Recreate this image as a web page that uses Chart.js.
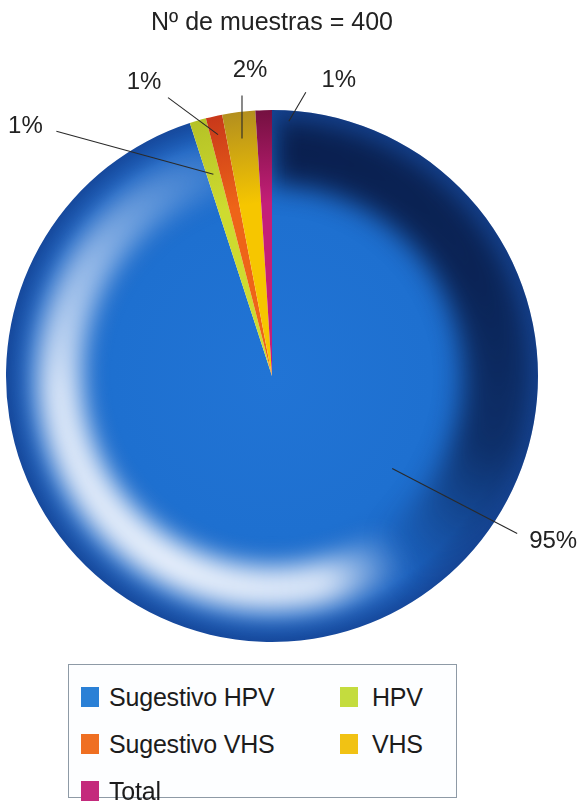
<!DOCTYPE html>
<html>
<head>
<meta charset="utf-8">
<script src="https://cdn.jsdelivr.net/npm/chart.js@4/dist/chart.umd.min.js"></script>
<style>
  html, body { margin: 0; padding: 0; background: #fff; width: 581px; height: 802px; overflow: hidden; }
  #wrap { position: relative; width: 581px; height: 802px; font-family: "Liberation Sans", Arial, sans-serif; }
  #c { position: absolute; left: 0; top: 0; }
  #legend { position: absolute; left: 68px; top: 664px; width: 389px; height: 134px; box-sizing: border-box;
            border: 1px solid #8e9aa6; background: #fdfeff; }
  .item { position: absolute; display: flex; align-items: center; height: 30px; transform: translateY(-50%);
          font-size: 25px; color: #1c1c1c; white-space: nowrap; letter-spacing: -0.2px; }
  .sw { width: 18px; height: 20px; margin-right: 10px; }
</style>
</head>
<body>
<div id="wrap">
  <canvas id="c" width="581" height="802"></canvas>
  <div id="legend"></div>
</div>
<script>
// ---- data ----
const titleText = 'Nº de muestras = 400';
const categories = ['Sugestivo HPV', 'HPV', 'Sugestivo VHS', 'VHS', 'Total'];
const percentages = [95, 1, 1, 2, 1];
const valueLabels = ['95%', '1%', '1%', '2%', '1%'];

// ---- styles ----
const innerColors = ['#1f72d2', '#cedb30', '#ee6418', '#f6c600', '#c41f78'];
const outerColors = ['#1a54a8', '#b5c226', '#c8381a', '#b38f1e', '#741040'];
const swatchColors = ['#2a80d6', '#c4dc3e', '#ef6f22', '#f1c214', '#c42a7c'];
// leader-line layout: t = fraction along slice, rf = radius fraction, line = offset of outer end, txt = text centre offset from outer end
const leaderLayout = [
  { t: 0.373, rf: 0.57, line: [125, 65],  txt: [36, 8] },
  { t: 0.5,   rf: 0.79, line: [-157, -43], txt: [-31, -5] },
  { t: 0.5,   rf: 0.93, line: [-50, -37], txt: [-24, -15] },
  { t: 0.5,   rf: 0.90, line: [0, -43],   txt: [8, -25] },
  { t: 2.05,  rf: 0.96, line: [17, -29],  txt: [33, -12] }
];

function sliceFill(ctx) {
  const chart = ctx.chart;
  const a = chart.chartArea;
  const i = ctx.dataIndex;
  if (!a) return innerColors[i];
  const cx = (a.left + a.right) / 2, cy = (a.top + a.bottom) / 2;
  const r = Math.min(a.right - a.left, a.bottom - a.top) / 2;
  const g = chart.ctx.createRadialGradient(cx, cy, 0, cx, cy, r);
  if (i === 0) {
    g.addColorStop(0, '#2174d5');
    g.addColorStop(0.6, '#1e70d0');
    g.addColorStop(0.9, '#1b63c2');
    g.addColorStop(1, '#17499c');
  } else {
    g.addColorStop(0, innerColors[i]);
    g.addColorStop(0.65, innerColors[i]);
    g.addColorStop(1, outerColors[i]);
  }
  return g;
}

const shadePlugin = {
  id: 'shade',
  afterDatasetsDraw(chart) {
    const arc = chart.getDatasetMeta(0).data[0];
    const p = arc.getProps(['x', 'y', 'outerRadius', 'startAngle', 'endAngle'], true);
    const ctx = chart.ctx;
    ctx.save();
    ctx.beginPath();
    ctx.moveTo(p.x, p.y);
    ctx.arc(p.x, p.y, p.outerRadius, p.startAngle, p.endAngle);
    ctx.closePath();
    ctx.clip();
    const r = p.outerRadius;
    // dark band (upper right)
    const dg = ctx.createConicGradient(-Math.PI / 2, p.x, p.y);
    dg.addColorStop(0, 'rgba(8,24,66,0.9)');
    dg.addColorStop(0.18, 'rgba(8,24,66,0.85)');
    dg.addColorStop(0.30, 'rgba(8,24,66,0.7)');
    dg.addColorStop(0.41, 'rgba(8,24,66,0)');
    dg.addColorStop(1, 'rgba(8,24,66,0)');
    ctx.filter = 'blur(13px)';
    ctx.lineWidth = r * 0.26;
    ctx.strokeStyle = dg;
    ctx.beginPath();
    ctx.arc(p.x, p.y, r * 0.85, 0, Math.PI * 2);
    ctx.stroke();
    // white band (lower left)
    const wg = ctx.createConicGradient(-Math.PI / 2, p.x, p.y);
    wg.addColorStop(0, 'rgba(236,242,252,0)');
    wg.addColorStop(0.40, 'rgba(236,242,252,0)');
    wg.addColorStop(0.46, 'rgba(236,242,252,0.9)');
    wg.addColorStop(0.58, 'rgba(240,245,253,0.97)');
    wg.addColorStop(0.74, 'rgba(236,242,252,0.9)');
    wg.addColorStop(0.84, 'rgba(210,226,248,0.65)');
    wg.addColorStop(0.95, 'rgba(190,215,245,0.2)');
    wg.addColorStop(1, 'rgba(190,215,245,0)');
    ctx.filter = 'blur(12px)';
    ctx.lineWidth = r * 0.17;
    ctx.strokeStyle = wg;
    ctx.beginPath();
    ctx.arc(p.x, p.y, r * 0.8, 0, Math.PI * 2);
    ctx.stroke();
    ctx.restore();
  }
};

const leaderPlugin = {
  id: 'leaders',
  afterDraw(chart) {
    const ctx = chart.ctx;
    const meta = chart.getDatasetMeta(0);
    ctx.save();
    ctx.strokeStyle = '#2a2a2a';
    ctx.lineWidth = 1.1;
    ctx.fillStyle = '#222';
    ctx.font = '24px "Liberation Sans", Arial, sans-serif';
    ctx.textAlign = 'center';
    ctx.textBaseline = 'middle';
    meta.data.forEach((el, i) => {
      const L = leaderLayout[i];
      const p = el.getProps(['x', 'y', 'outerRadius', 'startAngle', 'endAngle'], true);
      const ang = p.startAngle + L.t * (p.endAngle - p.startAngle);
      const ax = p.x + Math.cos(ang) * L.rf * p.outerRadius;
      const ay = p.y + Math.sin(ang) * L.rf * p.outerRadius;
      const ex = ax + L.line[0], ey = ay + L.line[1];
      ctx.beginPath();
      ctx.moveTo(ax, ay);
      ctx.lineTo(ex, ey);
      ctx.stroke();
      ctx.fillText(valueLabels[i], ex + L.txt[0], ey + L.txt[1]);
    });
    ctx.restore();
  }
};

const chart = new Chart(document.getElementById('c'), {
  type: 'pie',
  data: {
    labels: categories,
    datasets: [{
      data: percentages,
      backgroundColor: sliceFill,
      borderWidth: 0
    }]
  },
  options: {
    responsive: false,
    animation: false,
    rotation: 0,
    layout: { padding: { left: 6, right: 43, top: 0, bottom: 160 } },
    plugins: {
      legend: { display: false },
      tooltip: { enabled: false },
      title: {
        display: true,
        text: titleText,
        color: '#222',
        font: { family: '"Liberation Sans", Arial, sans-serif', size: 25, weight: 'normal', lineHeight: 1.2 },
        padding: { top: 8, bottom: 72 }
      }
    }
  },
  plugins: [shadePlugin, leaderPlugin]
});

// HTML legend built from the chart's categories
const legendEl = document.getElementById('legend');
categories.forEach((name, i) => {
  const col = i % 2, row = Math.floor(i / 2);
  const d = document.createElement('div');
  d.className = 'item';
  d.style.left = (12 + col * 259) + 'px';
  d.style.top = (32 + row * 47) + 'px';
  const sw = document.createElement('span');
  sw.className = 'sw';
  sw.style.background = swatchColors[i];
  const tx = document.createElement('span');
  tx.textContent = name;
  if (col === 1) sw.style.marginRight = '14px';
  d.appendChild(sw);
  d.appendChild(tx);
  legendEl.appendChild(d);
});
</script>
</body>
</html>
